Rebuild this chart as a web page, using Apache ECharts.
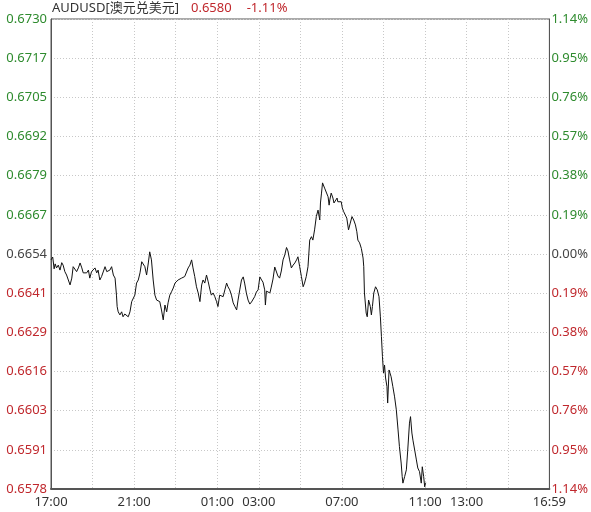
<!DOCTYPE html>
<html><head><meta charset="utf-8">
<script src="https://cdn.jsdelivr.net/npm/echarts@6/dist/echarts.min.js"></script>
<style>html,body{margin:0;padding:0;background:#fff}#c{width:591px;height:512px}</style>
</head><body><div id="c"></div>
<script>
// Title text
var symbolName = 'AUDUSD[澳元兑美元]';
var lastPrice = '0.6580';
var lastChange = '-1.11%';

// Axis ranges & tick labels
var priceMin = 0.6578, priceMax = 0.6730;
var leftLabels = ['0.6730','0.6717','0.6705','0.6692','0.6679','0.6667','0.6654','0.6641','0.6629','0.6616','0.6603','0.6591','0.6578'];
var rightLabels = ['1.14%','0.95%','0.76%','0.57%','0.38%','0.19%','0.00%','0.19%','0.38%','0.57%','0.76%','0.95%','1.14%'];
var xLabelMinutes = [0, 240, 480, 600, 840, 1080, 1200, 1439];

// Series: minutes after 17:00 and price
var minuteOffsets = [0,5,9,12,16,21,26,31,35,40,45,50,55,60,64,69,74,79,84,89,93,98,103,108,112,117,122,127,132,136,141,146,151,156,161,165,170,175,180,185,189,191,194,199,204,208,213,218,223,228,233,237,242,247,252,257,262,266,271,276,281,285,290,295,300,305,314,319,324,329,334,338,343,348,353,358,362,367,372,377,382,386,391,396,401,406,410,415,420,425,430,435,439,444,449,454,459,463,468,473,478,482,487,492,497,502,507,511,516,521,526,531,536,540,545,550,555,559,564,569,574,579,583,588,593,598,603,608,612,617,619,622,627,632,636,641,646,651,655,660,665,670,675,680,684,689,694,699,704,709,713,718,723,728,732,737,742,747,752,756,761,766,771,776,778,781,784,788,790,795,800,803,805,809,814,817,822,826,828,833,838,841,845,850,854,859,864,869,874,879,883,886,891,896,901,903,905,910,913,917,922,925,928,932,937,942,947,951,954,957,960,963,966,970,972,976,980,982,987,992,997,1002,1006,1011,1014,1016,1021,1026,1030,1035,1038,1042,1045,1050,1055,1059,1064,1069,1072,1076,1079,1081,1083];
var prices = [0.66521,0.66530,0.66492,0.66508,0.66495,0.66504,0.66488,0.66512,0.66504,0.66483,0.66472,0.66456,0.66440,0.66462,0.66499,0.66498,0.66483,0.66495,0.66511,0.66495,0.66479,0.66483,0.66479,0.66488,0.66462,0.66483,0.66479,0.66495,0.66479,0.66488,0.66456,0.66467,0.66467,0.66499,0.66483,0.66479,0.66488,0.66499,0.66472,0.66462,0.66407,0.66370,0.66353,0.66343,0.66353,0.66337,0.66346,0.66343,0.66337,0.66353,0.66386,0.66382,0.66407,0.66446,0.66456,0.66479,0.66515,0.66511,0.66499,0.66472,0.66511,0.66547,0.66521,0.66456,0.66407,0.66391,0.66386,0.66359,0.66327,0.66375,0.66353,0.66382,0.66407,0.66418,0.66430,0.66446,0.66450,0.66456,0.66450,0.66462,0.66456,0.66467,0.66472,0.66495,0.66504,0.66521,0.66495,0.66467,0.66434,0.66414,0.66386,0.66440,0.66456,0.66446,0.66472,0.66450,0.66424,0.66407,0.66414,0.66402,0.66386,0.66370,0.66407,0.66407,0.66402,0.66424,0.66446,0.66434,0.66424,0.66407,0.66382,0.66370,0.66359,0.66391,0.66424,0.66456,0.66466,0.66446,0.66414,0.66391,0.66378,0.66385,0.66382,0.66402,0.66417,0.66424,0.66466,0.66456,0.66449,0.66424,0.66375,0.66420,0.66418,0.66414,0.66433,0.66459,0.66498,0.66501,0.66469,0.66462,0.66485,0.66521,0.66537,0.66561,0.66550,0.66521,0.66495,0.66504,0.66511,0.66521,0.66531,0.66499,0.66467,0.66434,0.66446,0.66467,0.66499,0.66585,0.66596,0.66585,0.66618,0.66661,0.66682,0.66650,0.66705,0.66737,0.66770,0.66771,0.66753,0.66747,0.66725,0.66698,0.66715,0.66737,0.66721,0.66705,0.66709,0.66721,0.66709,0.66715,0.66709,0.66689,0.66677,0.66673,0.66656,0.66618,0.66640,0.66661,0.66650,0.66634,0.66612,0.66585,0.66576,0.66558,0.66527,0.66499,0.66414,0.66349,0.66337,0.66391,0.66370,0.66343,0.66370,0.66414,0.66434,0.66424,0.66402,0.66337,0.66273,0.66208,0.66155,0.66181,0.66139,0.66111,0.66058,0.66165,0.66171,0.66143,0.66111,0.66078,0.66036,0.65971,0.65917,0.65864,0.65820,0.65799,0.65820,0.65842,0.65906,0.65993,0.66014,0.65961,0.65938,0.65906,0.65874,0.65848,0.65836,0.65799,0.65852,0.65820,0.65787,0.65799,0.65800];

var GREEN = '#2e8b2e', RED = '#c0282d', MID = '#444';
function labelColor(i) { return i < 6 ? GREEN : (i === 6 ? MID : RED); }

var categories = [];
for (var m = 0; m < 1440; m++) {
  var h = (17 + Math.floor(m / 60)) % 24, mm = m % 60;
  categories.push((h < 10 ? '0' : '') + h + ':' + (mm < 10 ? '0' : '') + mm);
}
var seriesData = minuteOffsets.map(function (t, i) { return [t, prices[i]]; });
var FONT = '"Noto Sans", "Noto Sans CJK SC", sans-serif';

var chart = echarts.init(document.getElementById('c'), null, { renderer: 'canvas' });
chart.setOption({
  animation: false,
  backgroundColor: '#fff',
  title: {
    left: 52, top: 2, padding: 0,
    text: '{a|' + symbolName + '}{b|' + lastPrice + '}{c|' + lastChange + '}',
    textStyle: {
      fontWeight: 'normal',
      rich: {
        a: { color: '#333', fontSize: 13, fontWeight: 'normal', fontFamily: FONT },
        b: { color: RED, fontSize: 13, fontWeight: 'normal', fontFamily: FONT, padding: [0, 0, 0, 12] },
        c: { color: RED, fontSize: 13, fontWeight: 'normal', fontFamily: FONT, padding: [0, 0, 0, 15] }
      }
    }
  },
  grid: { left: 51, right: 41, top: 19, bottom: 23, show: true, borderColor: '#555', borderWidth: 1, containLabel: false },
  xAxis: {
    type: 'category', data: categories, boundaryGap: false,
    axisLine: { show: true, lineStyle: { color: '#555', width: 2 } },
    axisTick: { show: false },
    axisLabel: {
      interval: function (idx) { return xLabelMinutes.indexOf(idx) >= 0; },
      color: '#333', fontSize: 13, fontFamily: FONT, margin: 7
    },
    splitLine: {
      show: true,
      interval: function (idx) { return idx > 0 && idx % 120 === 0; },
      lineStyle: { color: '#c8c8c8', type: [1, 2], width: 1 }
    }
  },
  yAxis: [
    {
      type: 'value', min: 0, max: 12, interval: 1, position: 'left',
      axisLine: { show: true, lineStyle: { color: '#555' } },
      axisTick: { show: false },
      axisLabel: {
        margin: 4, fontSize: 13, fontFamily: FONT,
        formatter: function (v) { return leftLabels[12 - v]; },
        color: function (v) { return labelColor(12 - Math.round(Number(v))); }
      },
      splitLine: { show: true, lineStyle: { color: '#c8c8c8', type: [1, 2], width: 1 } }
    },
    {
      type: 'value', min: 0, max: 12, interval: 1, position: 'right',
      axisLine: { show: true, lineStyle: { color: '#555' } },
      axisTick: { show: false },
      axisLabel: {
        margin: 2, fontSize: 13, fontFamily: FONT,
        formatter: function (v) { return rightLabels[12 - v]; },
        color: function (v) { return labelColor(12 - Math.round(Number(v))); }
      },
      splitLine: { show: false }
    },
    { type: 'value', min: priceMin, max: priceMax, show: false, splitLine: { show: false } }
  ],
  series: [{
    type: 'line', yAxisIndex: 2, data: seriesData, showSymbol: false, symbol: 'none',
    lineStyle: { color: '#111', width: 1 }, silent: true
  }]
});
</script></body></html>
